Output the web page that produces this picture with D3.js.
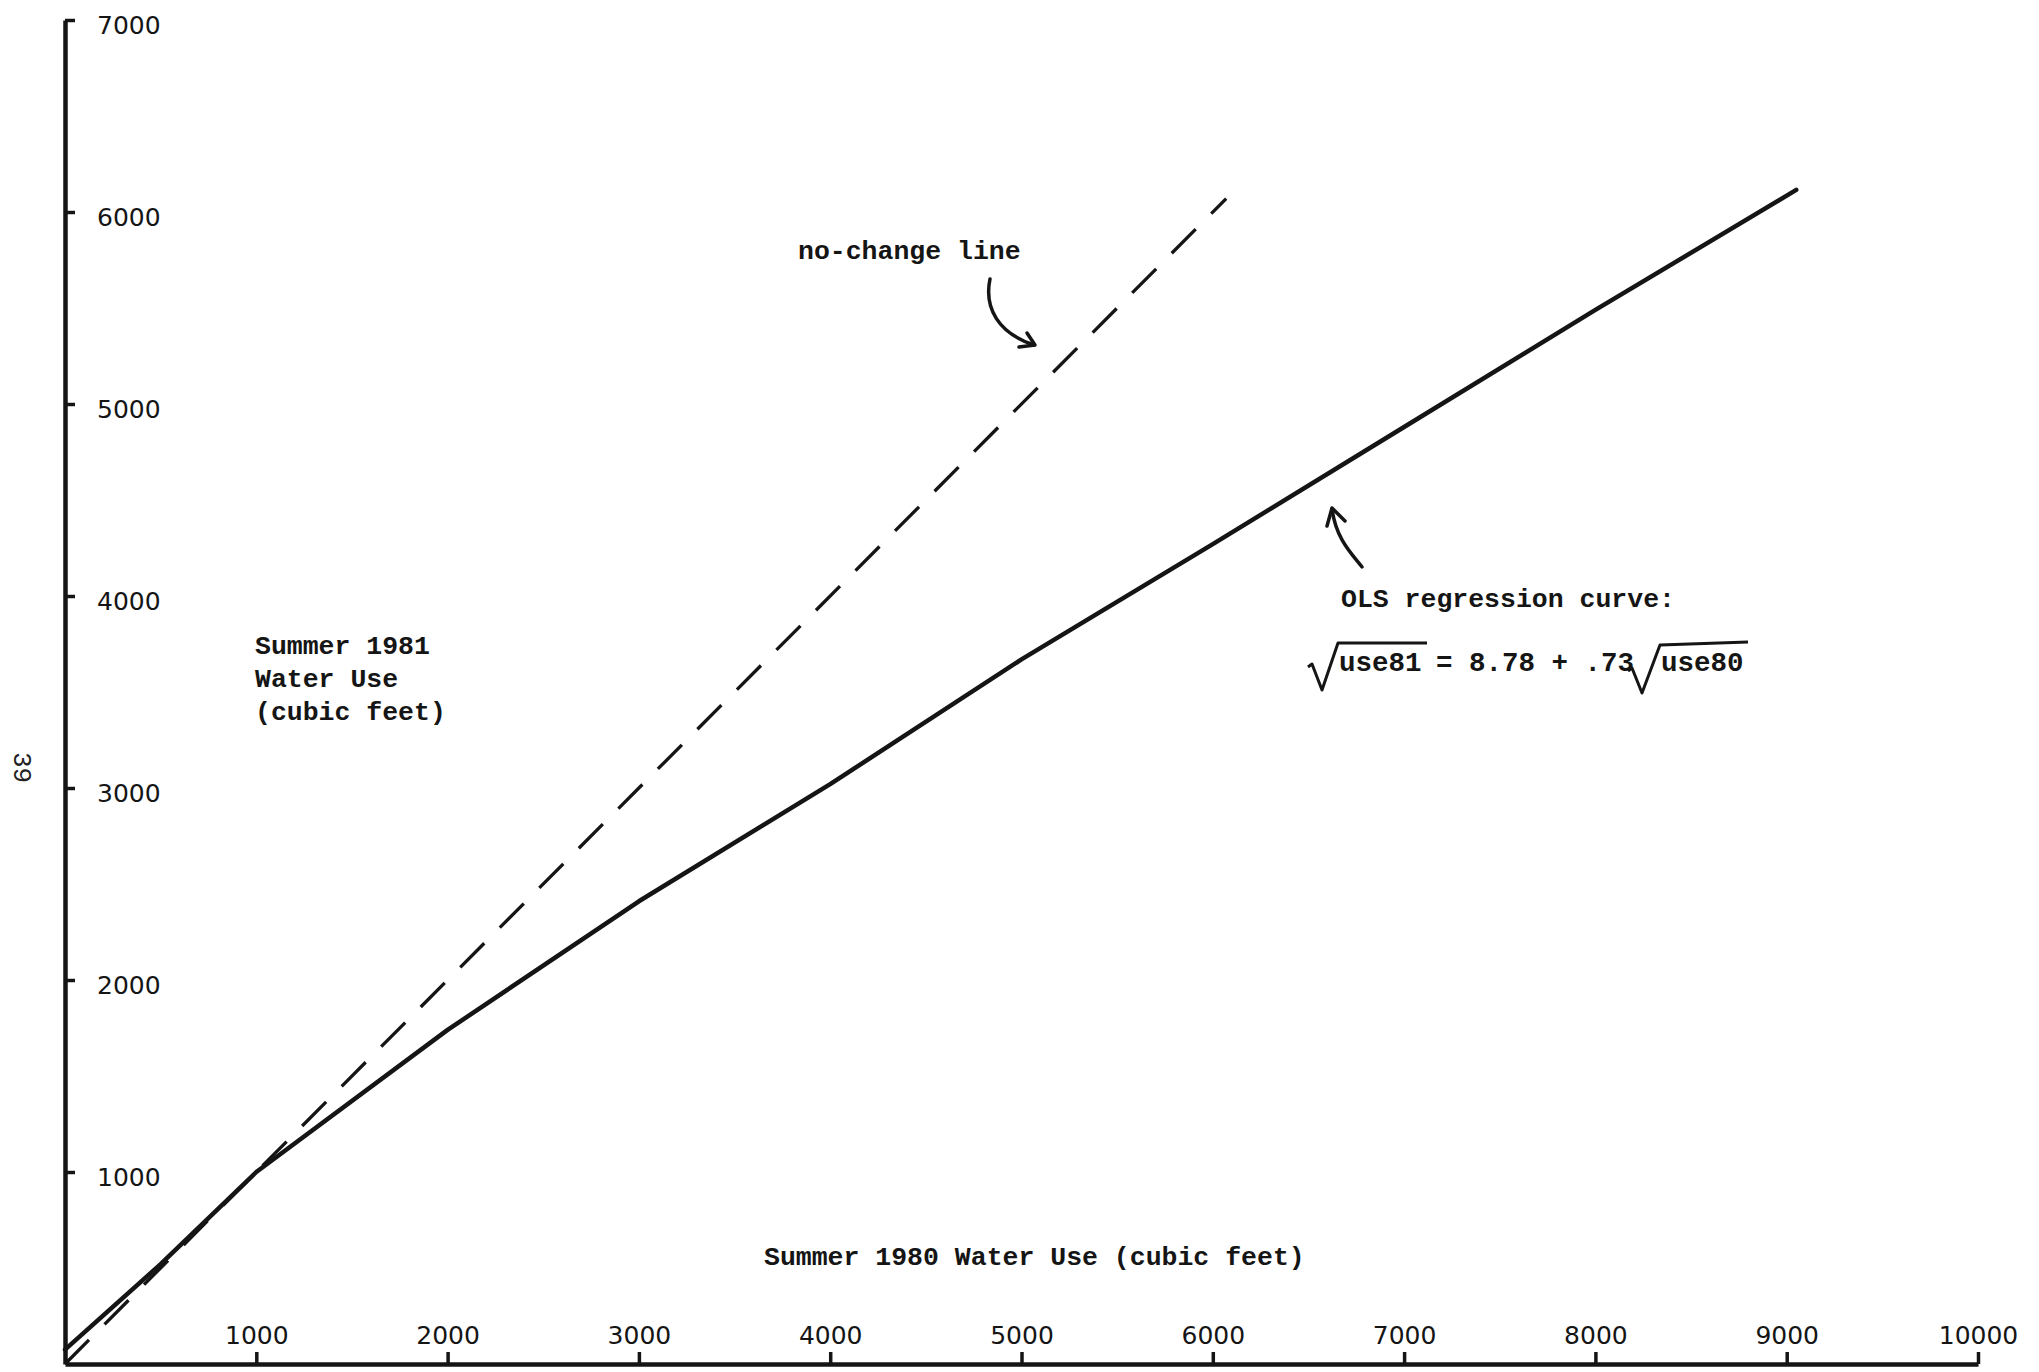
<!DOCTYPE html>
<html>
<head>
<meta charset="utf-8">
<script src="https://cdn.jsdelivr.net/npm/d3@7"></script>
<style>
  html, body { margin: 0; padding: 0; background: #fff; }
  svg { display: block; }
  .tw { font-family: "Liberation Mono", "DejaVu Sans Mono", monospace; font-weight: bold; fill: #151515; }
  .pg { font-family: "Liberation Mono", "DejaVu Sans Mono", monospace; font-weight: normal; fill: #222; }
  .tick text { font-family: "DejaVu Sans", sans-serif; fill: #151515; }
</style>
</head>
<body>
<script>
// ---- data ----
const xTicks = [1000, 2000, 3000, 4000, 5000, 6000, 7000, 8000, 9000, 10000];
const yTicks = [1000, 2000, 3000, 4000, 5000, 6000, 7000];
// OLS regression curve
const use80 = [0, 500, 1000, 2000, 3000, 4000, 5000, 6000, 7000, 8000, 9050];
const use81 = [75, 520, 1000, 1740, 2410, 3020, 3670, 4270, 4880, 5490, 6115];
// no-change line (use81 = use80)
const noChangeX = [0, 6070];
const noChangeY = [0, 6070];

const W = 2039, H = 1372;
const ink = "#151515";

const svg = d3.select("body").append("svg")
  .attr("width", W).attr("height", H)
  .attr("viewBox", `0 0 ${W} ${H}`);
svg.append("rect").attr("width", W).attr("height", H).attr("fill", "#fff");

const x = d3.scaleLinear().domain([0, 10000]).range([65, 1978]);
const y = d3.scaleLinear().domain([0, 7000]).range([1364, 20]);

// ---- axes ----
const yAxis = d3.axisRight(y).tickValues(yTicks).tickSize(10).tickSizeOuter(0)
  .tickPadding(22).tickFormat(d3.format("d"));
const gy = svg.append("g").attr("transform", `translate(${x(0)},0)`).call(yAxis);
gy.select(".domain").attr("stroke", ink).attr("stroke-width", 4.5);
gy.selectAll(".tick line").attr("stroke", ink).attr("stroke-width", 3.5);
gy.selectAll(".tick text").attr("font-size", 25).attr("dy", "0.52em");

const xAxis = d3.axisTop(x).tickValues(xTicks).tickSize(12).tickSizeOuter(0)
  .tickPadding(8).tickFormat(d3.format("d"));
const gx = svg.append("g").attr("transform", `translate(0,${y(0)})`).call(xAxis);
gx.select(".domain").attr("stroke", ink).attr("stroke-width", 4.5);
gx.selectAll(".tick line").attr("stroke", ink).attr("stroke-width", 3.5);
gx.selectAll(".tick text").attr("font-size", 25);

// ---- lines ----
const line = d3.line().x(d => x(d[0])).y(d => y(d[1])).curve(d3.curveLinear);

svg.append("path")
  .datum(noChangeX.map((v, i) => [v, noChangeY[i]]))
  .attr("d", line)
  .attr("fill", "none").attr("stroke", ink).attr("stroke-width", 3.3)
  .attr("stroke-dasharray", "34 22");

svg.append("path")
  .datum(use80.map((v, i) => [v, use81[i]]))
  .attr("d", line)
  .attr("fill", "none").attr("stroke", ink).attr("stroke-width", 4.5)
  .attr("stroke-linejoin", "round").attr("stroke-linecap", "round");

// ---- text ----
const tw = (t, px, py, size) => svg.append("text").attr("class", "tw")
  .attr("x", px).attr("y", py).attr("font-size", size || 26.5).text(t);

tw("Summer 1981", 255, 654);
tw("Water Use", 255, 687);
tw("(cubic feet)", 255, 720);
tw("Summer 1980 Water Use (cubic feet)", 764, 1265);
tw("no-change line", 798, 259);
tw("OLS regression curve:", 1341, 607);

// equation
tw("use81", 1339, 671, 27.5);
tw("= 8.78 + .73", 1436, 671, 27.5);
tw("use80", 1661, 671, 27.5);
const rad = (pts) => svg.append("path").attr("d", d3.line()(pts))
  .attr("fill", "none").attr("stroke", ink).attr("stroke-width", 3)
  .attr("stroke-linejoin", "round");
rad([[1308, 667], [1312, 664], [1322, 690], [1338, 643], [1427, 643]]);
rad([[1628, 671], [1632, 668], [1642, 693], [1660, 645], [1748, 642]]);

// page number
svg.append("text").attr("class", "pg")
  .attr("transform", "translate(14,752) rotate(90)")
  .attr("font-size", 26).text("39");

// ---- annotation arrows ----
const arrow = (d) => svg.append("path").attr("d", d)
  .attr("fill", "none").attr("stroke", ink).attr("stroke-width", 3.5)
  .attr("stroke-linecap", "round").attr("stroke-linejoin", "round");
arrow("M990,279 C984,308 998,333 1034,345");
arrow("M1027,333 L1035,345 L1019,347");
arrow("M1362,567 C1350,552 1336,538 1332,509");
arrow("M1327,526 L1332,508 L1345,521");
</script>
</body>
</html>
